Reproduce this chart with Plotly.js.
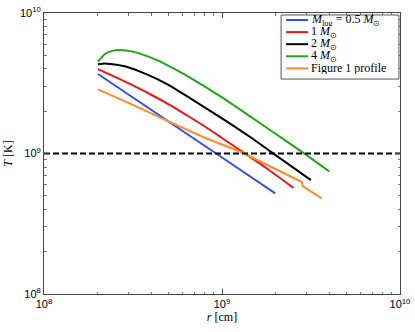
<!DOCTYPE html>
<html>
<head>
<meta charset="utf-8">
<script src="https://cdn.plot.ly/plotly-3.0.1.min.js"></script>
<style>
  html, body { margin: 0; padding: 0; background: #fff; }
  #chart { width: 415px; height: 332px; }
</style>
</head>
<body>
<div id="chart"></div>
<script>
// radius r [cm] and temperature T [K]
const rHalf = [2.01e8, 3.16e8, 5.01e8, 7.94e8, 1.26e9, 1.99e9];
const tHalf = [3.68e9, 2.51e9, 1.69e9, 1.14e9, 7.69e8, 5.20e8];

const rOne = [2.01e8, 2.51e8, 3.16e8, 3.98e8, 5.11e8, 6.31e8, 7.94e8, 1.0e9, 1.29e9, 1.78e9, 2.52e9];
const tOne = [3.99e9, 3.51e9, 3.05e9, 2.63e9, 2.21e9, 1.88e9, 1.57e9, 1.29e9, 1.035e9, 7.85e8, 5.69e8];

const rTwo = [2.01e8, 2.19e8, 2.35e8, 2.82e8, 3.55e8, 4.27e8, 5.11e8, 6.61e8, 1.0e9, 1.44e9, 1.86e9, 3.16e9];
const tTwo = [4.32e9, 4.37e9, 4.34e9, 4.19e9, 3.78e9, 3.41e9, 3.03e9, 2.48e9, 1.78e9, 1.31e9, 1.04e9, 6.47e8];

const rFour = [2.01e8, 2.20e8, 2.45e8, 2.67e8, 3.16e8, 3.76e8, 4.47e8, 5.43e8, 6.61e8, 1.0e9, 1.86e9, 2.92e9, 4.01e9];
const tFour = [4.50e9, 5.11e9, 5.40e9, 5.46e9, 5.31e9, 4.95e9, 4.52e9, 3.98e9, 3.47e9, 2.51e9, 1.47e9, 9.95e8, 7.45e8];

const rFig1 = [2.01e8, 3.16e8, 5.11e8, 7.94e8, 1.29e9, 2.0e9, 2.81e9, 2.84e9, 3.63e9];
const tFig1 = [2.86e9, 2.22e9, 1.67e9, 1.30e9, 1.02e9, 7.76e8, 6.27e8, 5.86e8, 4.80e8];

const rRef = [1e8, 1e10];
const tRef = [1e9, 1e9];

const seriesNames = [
  "<i>M</i><sub>log</sub> = 0.5 <i>M</i><sub>⊙</sub>",
  "1 <i>M</i><sub>⊙</sub>",
  "2 <i>M</i><sub>⊙</sub>",
  "4 <i>M</i><sub>⊙</sub>",
  "Figure 1 profile",
];
const colors = ["#2f4ff5", "#f01414", "#000000", "#1fa814", "#ff8a26"];

const majorTicks = [1e8, 1e9, 1e10];
const majorLabels = ["10<sup>8</sup>", "10<sup>9</sup>", "10<sup>10</sup>"];
const minorTicks = [2e8, 3e8, 4e8, 5e8, 6e8, 7e8, 8e8, 9e8, 2e9, 3e9, 4e9, 5e9, 6e9, 7e9, 8e9, 9e9];

function curve(x, y, i, shape) {
  return {
    x, y,
    name: seriesNames[i],
    type: "scatter",
    mode: "lines",
    showlegend: false,
    line: { color: colors[i], width: 2, shape: shape, smoothing: 0.6 },
  };
}

const traces = [
  curve(rHalf, tHalf, 0, "linear"),
  curve(rOne, tOne, 1, "spline"),
  curve(rTwo, tTwo, 2, "spline"),
  curve(rFour, tFour, 3, "spline"),
  curve(rFig1, tFig1, 4, "linear"),
  {
    x: rRef, y: tRef,
    type: "scatter",
    mode: "lines",
    showlegend: false,
    line: { color: "#000", width: 2, dash: "6px,3px" },
  },
];

const axisBase = {
  type: "log",
  range: [8, 10],
  tickmode: "array",
  tickvals: majorTicks,
  ticktext: majorLabels,
  ticks: "inside",
  ticklen: 5,
  tickcolor: "#444",
  minor: { tickmode: "array", tickvals: minorTicks, ticks: "inside", ticklen: 2.5, tickcolor: "#777" },
  showline: true,
  linecolor: "#444",
  linewidth: 1,
  mirror: "allticks",
  showgrid: false,
  zeroline: false,
  tickfont: { family: "Liberation Sans, Arial, sans-serif", size: 11, color: "#000" },
};

// hand-built legend box (matplotlib-style compact entries)
const legTop = 0.975, legStep = 0.043;
const shapes = [{
  type: "rect", xref: "paper", yref: "paper",
  x0: 0.666, x1: 0.997, y0: 0.765, y1: 0.993,
  fillcolor: "#fff", line: { color: "#555", width: 1 }, layer: "above",
}];
const annotations = [];
seriesNames.forEach((name, i) => {
  const y = legTop - i * legStep;
  shapes.push({
    type: "line", xref: "paper", yref: "paper",
    x0: 0.680, x1: 0.742, y0: y, y1: y,
    line: { color: colors[i], width: 2 }, layer: "above",
  });
  annotations.push({
    xref: "paper", yref: "paper", x: 0.748, y: y,
    xanchor: "left", yanchor: "middle", showarrow: false,
    height: 12, valign: "middle", borderpad: 0,
    text: name,
    font: { family: "Liberation Serif, serif", size: 12, color: "#000" },
  });
});

Plotly.newPlot(
  "chart",
  traces,
  {
    width: 415,
    height: 332,
    paper_bgcolor: "#fff",
    plot_bgcolor: "#fff",
    margin: { l: 44, r: 15, t: 13, b: 38 },
    xaxis: Object.assign({}, axisBase, {
      title: { text: "<i>r</i> [cm]", font: { family: "Liberation Serif, serif", size: 12, color: "#000" }, standoff: 2 },
    }),
    yaxis: Object.assign({}, axisBase, {
      title: { text: "<i>T</i> [K]", font: { family: "Liberation Serif, serif", size: 12, color: "#000" }, standoff: 4 },
    }),
    showlegend: false,
    shapes,
    annotations,
  },
  { staticPlot: true }
);
</script>
</body>
</html>
